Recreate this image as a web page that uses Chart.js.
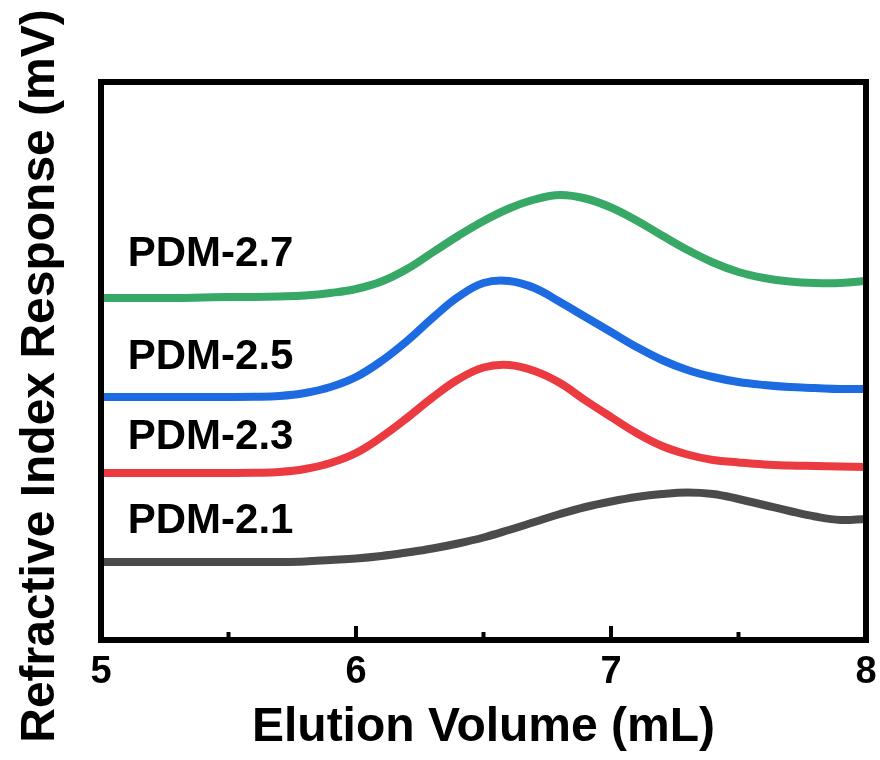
<!DOCTYPE html>
<html lang="en">
<head>
    <meta charset="UTF-8">
    <title>Refractive Index Response vs Elution Volume</title>
    <script src="https://cdn.jsdelivr.net/npm/chart.js"></script>
    <style>
        html, body { margin: 0; padding: 0; background: #fff; }
        #wrap { width: 880px; height: 760px; }
    </style>
</head>
<body>
    <div id="wrap"><canvas id="giChart" width="880" height="760"></canvas></div>

    <script>
        // elution volume (mL), one point every 0.1 mL
        const elutionVolume = [5.0, 5.1, 5.2, 5.3, 5.4, 5.5, 5.6, 5.7, 5.8, 5.9,
                               6.0, 6.1, 6.2, 6.3, 6.4, 6.5, 6.6, 6.7, 6.8, 6.9,
                               7.0, 7.1, 7.2, 7.3, 7.4, 7.5, 7.6, 7.7, 7.8, 7.9, 8.0];

        // RI response (mV, traces offset as in the figure)
        const pdm27 = [34.2, 34.2, 34.2, 34.2, 34.25, 34.3, 34.3, 34.35, 34.45, 34.7,
                       35.1, 35.85, 37.1, 38.75, 40.4, 41.9, 43.15, 44.05, 44.5, 44.15,
                       43.25, 41.95, 40.45, 39.0, 37.75, 36.8, 36.2, 35.85, 35.7, 35.7, 35.9];
        const pdm25 = [24.3, 24.3, 24.3, 24.3, 24.3, 24.3, 24.32, 24.4, 24.7, 25.3,
                       26.3, 27.9, 29.9, 32.2, 34.3, 35.7, 35.9, 35.2, 33.8, 32.3,
                       30.8, 29.3, 28.0, 27.0, 26.3, 25.8, 25.5, 25.3, 25.2, 25.1, 25.1];
        const pdm23 = [16.7, 16.7, 16.7, 16.7, 16.7, 16.7, 16.72, 16.8, 17.1, 17.7,
                       18.7, 20.3, 22.2, 24.25, 26.05, 27.25, 27.5, 26.9, 25.7, 23.95,
                       22.3, 20.7, 19.4, 18.55, 18.0, 17.75, 17.55, 17.45, 17.4, 17.35, 17.3];
        const pdm21 = [7.8, 7.8, 7.8, 7.8, 7.8, 7.8, 7.8, 7.8, 7.85, 8.0,
                       8.15, 8.4, 8.75, 9.15, 9.65, 10.25, 11.0, 11.8, 12.6, 13.3,
                       13.85, 14.3, 14.6, 14.75, 14.6, 14.1, 13.5, 12.9, 12.35, 12.0, 12.1];

        const seriesNames = ['PDM-2.7', 'PDM-2.5', 'PDM-2.3', 'PDM-2.1'];
        const seriesData = [pdm27, pdm25, pdm23, pdm21];
        const seriesColors = ['#38a866', '#1c6be0', '#ec3b40', '#4b4b4b'];

        // where the sample names sit (data units)
        const labelX = 5.105;
        const labelY = [38.6, 28.3, 20.3, 11.9];

        const majorTicks = [6, 7];
        const minorTicks = [5.5, 6.5, 7.5];

        const FONT = '"Liberation Sans", Arial, Helvetica, sans-serif';

        // box frame, inward ticks, sample names and y title
        const framePlugin = {
            id: 'frame',
            afterDatasetsDraw(chart) {
                const { ctx, chartArea: a, scales: { x, y } } = chart;
                ctx.save();
                ctx.strokeStyle = '#000';
                ctx.lineWidth = 6;
                ctx.strokeRect(a.left, a.top, a.right - a.left, a.bottom - a.top);

                ctx.lineWidth = 4;
                ctx.beginPath();
                majorTicks.forEach(v => {
                    const px = x.getPixelForValue(v);
                    ctx.moveTo(px, a.bottom);
                    ctx.lineTo(px, a.bottom - 14);
                });
                minorTicks.forEach(v => {
                    const px = x.getPixelForValue(v);
                    ctx.moveTo(px, a.bottom);
                    ctx.lineTo(px, a.bottom - 8);
                });
                ctx.stroke();

                ctx.fillStyle = '#000';
                ctx.font = 'bold 42px ' + FONT;
                ctx.textAlign = 'left';
                ctx.textBaseline = 'middle';
                seriesNames.forEach((name, i) => {
                    ctx.fillText(name, x.getPixelForValue(labelX), y.getPixelForValue(labelY[i]));
                });

                ctx.font = 'bold 48px ' + FONT;
                ctx.textAlign = 'center';
                ctx.translate(41, 376);
                ctx.rotate(-Math.PI / 2);
                ctx.fillText('Refractive Index Response (mV)', 0, 0);
                ctx.restore();
            }
        };

        new Chart(document.getElementById('giChart'), {
            type: 'line',
            data: {
                datasets: seriesNames.map((name, i) => ({
                    label: name,
                    data: elutionVolume.map((v, j) => ({ x: v, y: seriesData[i][j] })),
                    borderColor: seriesColors[i],
                    borderWidth: 8,
                    pointRadius: 0,
                    tension: 0.4,
                    fill: false
                }))
            },
            options: {
                responsive: false,
                animation: false,
                layout: { padding: { top: 82, right: 14, bottom: 0, left: 0 } },
                plugins: {
                    legend: { display: false },
                    tooltip: { enabled: false }
                },
                scales: {
                    x: {
                        type: 'linear',
                        min: 5,
                        max: 8,
                        afterFit: s => {
                            s.height = 120;
                            s.paddingLeft = 0;
                            s.paddingRight = 0;
                        },
                        grid: { display: false, drawTicks: false },
                        border: { display: false },
                        ticks: {
                            stepSize: 1,
                            padding: 10,
                            color: '#000',
                            font: { family: FONT, size: 38, weight: 'bold' }
                        },
                        title: {
                            display: true,
                            text: 'Elution Volume (mL)',
                            color: '#000',
                            padding: { top: 0, bottom: 3 },
                            font: { family: FONT, size: 48, weight: 'bold' }
                        }
                    },
                    y: {
                        min: 0,
                        max: 55.8,
                        afterFit: s => { s.width = 101; },
                        grid: { display: false, drawTicks: false },
                        border: { display: false },
                        ticks: { display: false }
                    }
                }
            },
            plugins: [framePlugin]
        });
    </script>
</body>
</html>
